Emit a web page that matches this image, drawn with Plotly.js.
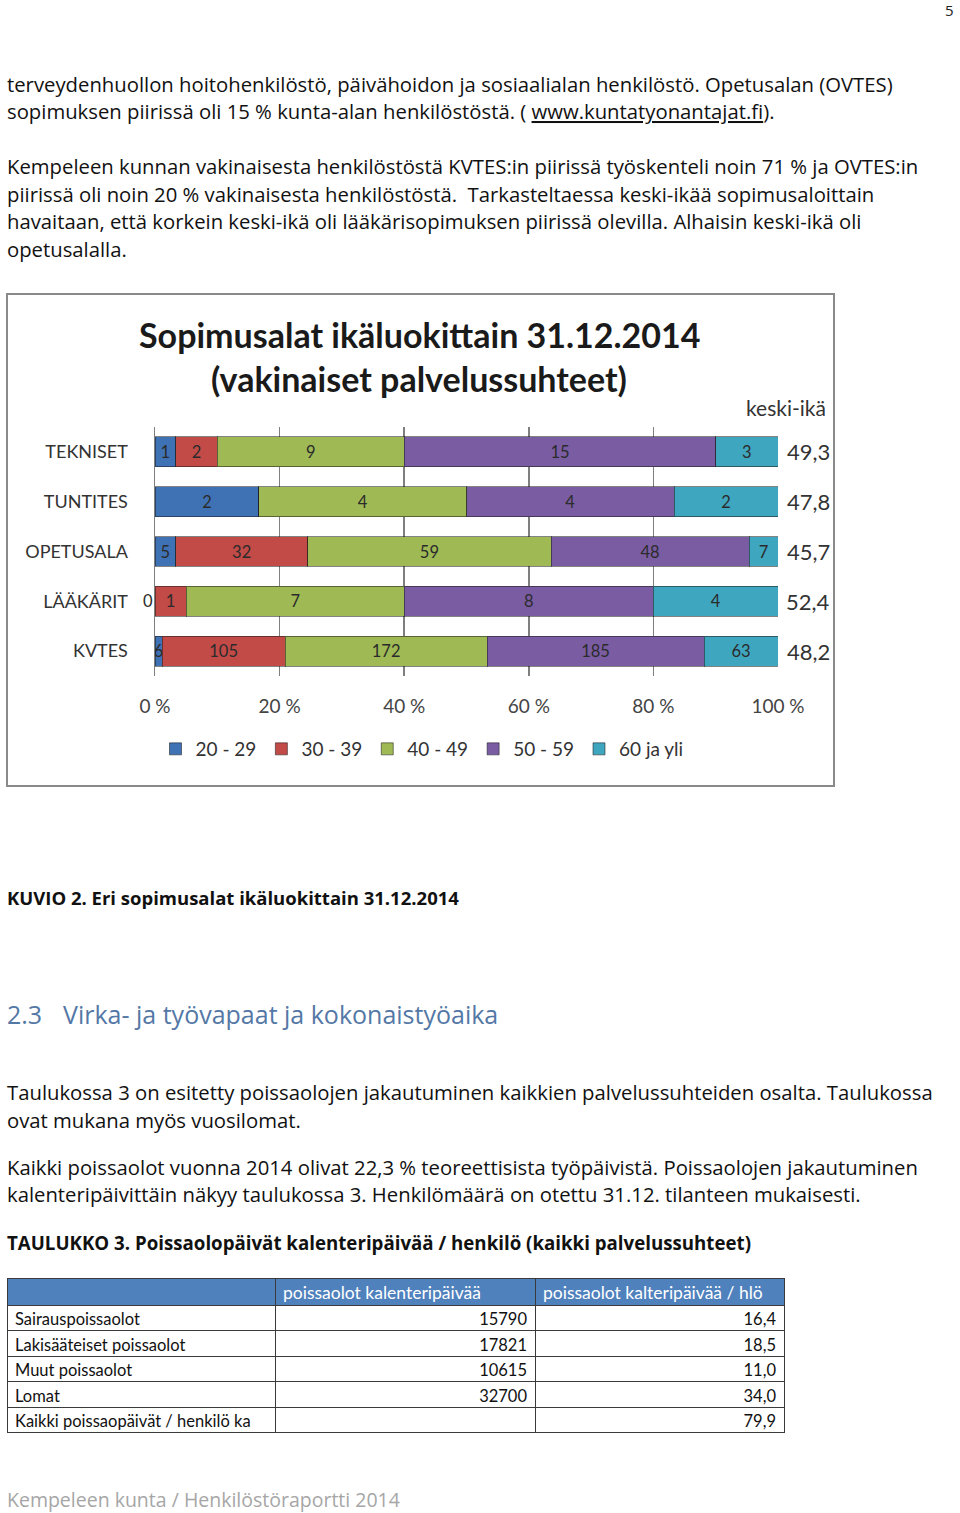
<!DOCTYPE html>
<html>
<head>
<meta charset="utf-8">
<script src="https://cdn.plot.ly/plotly-3.0.1.min.js"></script>
<style>
html,body{margin:0;padding:0;background:#fff;}
#page{width:960px;height:1513px;}
</style>
</head>
<body>
<div id="page"></div>
<script>
// ---------- DATA ----------
const categories = ['TEKNISET', 'TUNTITES', 'OPETUSALA', 'LÄÄKÄRIT', 'KVTES'];
const seriesNames = ['20 - 29', '30 - 39', '40 - 49', '50 - 59', '60 ja yli'];
const age20_29 = [1, 2, 5, 0, 6];
const age30_39 = [2, 0, 32, 1, 105];
const age40_49 = [9, 4, 59, 7, 172];
const age50_59 = [15, 4, 48, 8, 185];
const age60plus = [3, 2, 7, 4, 63];
const avgAge = [49.3, 47.8, 45.7, 52.4, 48.2];
const xTicks = [0, 20, 40, 60, 80, 100];

const tableRowLabels = ['Sairauspoissaolot', 'Lakisääteiset poissaolot', 'Muut poissaolot', 'Lomat', 'Kaikki poissaopäivät / henkilö ka'];
const tableDays = [15790, 17821, 10615, 32700, null];
const tablePerPerson = [16.4, 18.5, 11.0, 34.0, 79.9];
const tableHeaders = ['', 'poissaolot kalenteripäivää', 'poissaolot kalteripäivää / hlö'];

const chartTitle = ['Sopimusalat ikäluokittain 31.12.2014', '(vakinaiset palvelussuhteet)'];
const para1 = [
  'terveydenhuollon hoitohenkilöstö, päivähoidon ja sosiaalialan henkilöstö. Opetusalan (OVTES)',
  'sopimuksen piirissä oli 15 % kunta-alan henkilöstöstä. ( <u>www.kuntatyonantajat.fi</u>).'
];
const para2 = [
  'Kempeleen kunnan vakinaisesta henkilöstöstä KVTES:in piirissä työskenteli noin 71 % ja OVTES:in',
  'piirissä oli noin 20 % vakinaisesta henkilöstöstä.  Tarkasteltaessa keski-ikää sopimusaloittain',
  'havaitaan, että korkein keski-ikä oli lääkärisopimuksen piirissä olevilla. Alhaisin keski-ikä oli',
  'opetusalalla.'
];
const caption = 'KUVIO 2. Eri sopimusalat ikäluokittain 31.12.2014';
const headingNum = '2.3';
const headingText = 'Virka- ja työvapaat ja kokonaistyöaika';
const para3 = [
  'Taulukossa 3 on esitetty poissaolojen jakautuminen kaikkien palvelussuhteiden osalta. Taulukossa',
  'ovat mukana myös vuosilomat.'
];
const para4 = [
  'Kaikki poissaolot vuonna 2014 olivat 22,3 % teoreettisista työpäivistä. Poissaolojen jakautuminen',
  'kalenteripäivittäin näkyy taulukossa 3. Henkilömäärä on otettu 31.12. tilanteen mukaisesti.'
];
const tableCaption = 'TAULUKKO 3. Poissaolopäivät kalenteripäivää / henkilö (kaikki palvelussuhteet)';
const footer = 'Kempeleen kunta / Henkilöstöraportti 2014';
const pageNumber = '5';

// ---------- LAYOUT HELPERS ----------
const W = 960, H = 1513;
const px = v => v / W;
const py = v => 1 - v / H;
const fmtComma = v => v.toFixed(1).replace('.', ',');

const colors = ['#3f72b4', '#c24a47', '#9fba55', '#7a5ca3', '#3fa6bf'];
const seriesData = [age20_29, age30_39, age40_49, age50_59, age60plus];

const traces = seriesData.map((vals, i) => ({
  type: 'bar',
  orientation: 'h',
  name: seriesNames[i],
  y: categories,
  x: vals,
  text: vals.map(v => v === 0 ? '' : String(v)),
  textposition: 'inside',
  insidetextanchor: 'middle',
  textangle: 0,
  constraintext: 'none',
  textfont: {family: 'Lato, sans-serif', size: 16.5, color: '#2b2b2b'},
  marker: {color: colors[i], line: {color: 'rgba(30,30,30,0.55)', width: 1}},
  hoverinfo: 'skip'
}));

const FONT = '"Open Sans", sans-serif';
const bodyFont = {family: FONT, size: 20.3, color: '#111'};
const annotations = [];
function addLine(text, x, y, font, anchor) {
  annotations.push({
    text: text, x: px(x), y: py(y), xref: 'paper', yref: 'paper',
    xanchor: anchor || 'left', yanchor: 'middle', showarrow: false, align: 'left',
    font: font || bodyFont
  });
}
addLine(pageNumber, 956, 10, {family: FONT, size: 15, color: '#222'}, 'right');
[84, 111].forEach((y, i) => addLine(para1[i], 5, y));
[166, 194, 221, 249].forEach((y, i) => addLine(para2[i], 5, y));
addLine('<b>' + caption + '</b>', 5, 897, {family: FONT, size: 18.5, color: '#111'});
addLine(headingNum, 5, 1014, {family: FONT, size: 25, color: '#5478a6'});
addLine(headingText, 61, 1014, {family: FONT, size: 25, color: '#5478a6'});
[1092, 1120].forEach((y, i) => addLine(para3[i], 5, y));
[1167, 1194].forEach((y, i) => addLine(para4[i], 5, y));
addLine('<b>' + tableCaption + '</b>', 5, 1242, {family: FONT, size: 18.7, color: '#111'});
addLine(footer, 5, 1499, {family: FONT, size: 19.5, color: '#a6a6a6'});

// chart title
addLine('<b>' + chartTitle[0] + '</b>', 419, 334, {family: 'Lato, sans-serif', size: 34, color: '#1a1a1a'}, 'center');
addLine('<b>' + chartTitle[1] + '</b>', 419, 378, {family: 'Lato, sans-serif', size: 34, color: '#1a1a1a'}, 'center');
addLine('keski-ikä', 786, 407, {family: 'Lato, sans-serif', size: 21, color: '#333'}, 'center');

// average ages next to bars
categories.forEach((c, i) => {
  annotations.push({
    text: fmtComma(avgAge[i]), x: px(808), y: c, xref: 'paper', yref: 'y',
    xanchor: 'center', yanchor: 'middle', showarrow: false,
    font: {family: 'Lato, sans-serif', size: 22, color: '#333'}
  });
});
// zero labels for the first age group
age20_29.forEach((v, i) => {
  if (v === 0) {
    annotations.push({
      text: '0', x: 0, y: categories[i], xref: 'x', yref: 'y', xanchor: 'right',
      yanchor: 'middle', showarrow: false, font: {family: 'Lato, sans-serif', size: 16.5, color: '#2b2b2b'}
    });
  }
});

// table
traces.push({
  type: 'table',
  domain: {x: [px(7), px(784)], y: [py(1433), py(1278)]},
  columnwidth: [268, 260, 249],
  header: {
    values: tableHeaders,
    align: ['left', 'left', 'left'],
    fill: {color: '#4f81bd'},
    line: {color: '#3a3a3a', width: 1},
    font: {family: 'Lato, sans-serif', size: 17.5, color: '#ffffff'},
    height: 27
  },
  cells: {
    values: [tableRowLabels,
             tableDays.map(v => v === null ? '' : String(v)),
             tablePerPerson.map(fmtComma)],
    align: ['left', 'right', 'right'],
    fill: {color: '#ffffff'},
    line: {color: '#3a3a3a', width: 1},
    font: {family: 'Lato, sans-serif', size: 16.5, color: '#111'},
    height: 25.5
  }
});

const layout = {
  width: W, height: H,
  margin: {l: 0, r: 0, t: 0, b: 0},
  paper_bgcolor: '#ffffff', plot_bgcolor: '#ffffff',
  barmode: 'stack', barnorm: 'percent', bargap: 0.4,
  showlegend: true,
  legend: {
    orientation: 'h', x: px(422), xanchor: 'center', y: py(749), yanchor: 'middle',
    traceorder: 'normal', font: {family: 'Lato, sans-serif', size: 19, color: '#333'},
    itemwidth: 30, bgcolor: 'rgba(0,0,0,0)'
  },
  xaxis: {
    domain: [px(155), px(778)], range: [0, 100],
    tickvals: xTicks, ticktext: xTicks.map(t => t + ' %'),
    showgrid: true, gridcolor: '#7f7f7f', gridwidth: 1.5, zeroline: false,
    ticks: 'outside', ticklen: 13, tickcolor: 'rgba(0,0,0,0)',
    tickfont: {family: 'Lato, sans-serif', size: 19, color: '#444'},
    fixedrange: true
  },
  yaxis: {
    domain: [py(676), py(427)], autorange: 'reversed', type: 'category',
    showline: true, linecolor: '#7f7f7f', linewidth: 1.5, showgrid: false,
    ticks: 'outside', ticklen: 22, tickcolor: 'rgba(0,0,0,0)',
    tickfont: {family: 'Lato, sans-serif', size: 18, color: '#333'},
    fixedrange: true
  },
  shapes: [
    {type: 'rect', xref: 'paper', yref: 'paper', x0: px(7), x1: px(834), y0: py(786), y1: py(294),
     line: {color: '#8a8a8a', width: 2}, fillcolor: 'rgba(0,0,0,0)', layer: 'below'}
  ],
  annotations: annotations
};

Plotly.newPlot('page', traces, layout, {displayModeBar: false, staticPlot: true});
</script>
</body>
</html>
